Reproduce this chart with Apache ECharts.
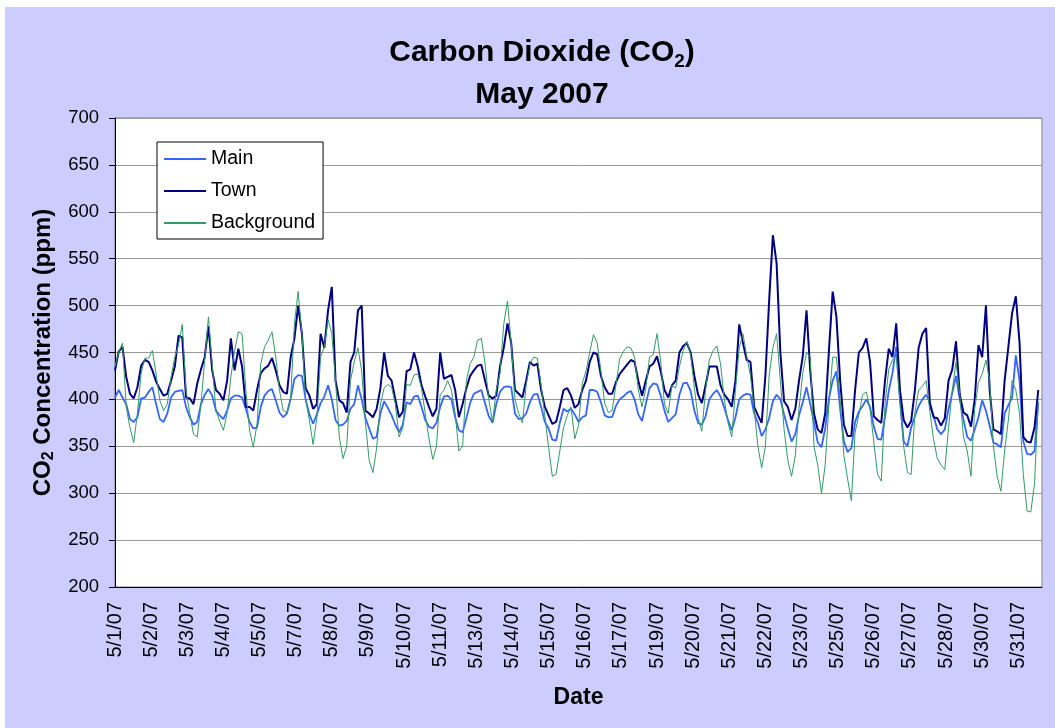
<!DOCTYPE html>
<html>
<head>
<meta charset="utf-8">
<title>Carbon Dioxide (CO2) - May 2007</title>
<script src="https://cdn.jsdelivr.net/npm/echarts@6/dist/echarts.min.js"></script>
<style>
  html, body { margin: 0; padding: 0; background: #fff; }
  #chart { width: 1055px; height: 728px; }
</style>
</head>
<body>
<div id="chart"></div>
<script>
// CO2 readings (ppm), read every 3 hours from 5/1/07 00:00 to 5/31/07 21:00
const stepHours = 3
const seriesNames = ['Main', 'Town', 'Background']

const mainPpm = [
  402, 410, 402, 395, 379, 376, 381, 401,
  402, 408, 413, 395, 379, 376, 385, 402,
  408, 409, 410, 392, 381, 373, 376, 395,
  405, 411, 404, 388, 383, 379, 388, 401,
  404, 404, 402, 390, 376, 369, 370, 392,
  404, 409, 411, 399, 386, 381, 385, 401,
  422, 426, 425, 400, 384, 374, 384, 396,
  403, 415, 400, 378, 372, 373, 377, 390,
  395, 415, 400, 380, 369, 358, 360, 385,
  398, 391, 383, 373, 365, 373, 397, 395,
  403, 404, 392, 378, 371, 369, 375, 392,
  403, 404, 400, 381, 367, 365, 380, 396,
  406, 408, 410, 396, 382, 375, 395, 408,
  413, 414, 413, 385, 379, 380, 385, 397,
  405, 406, 392, 376, 369, 357, 356, 375,
  390, 387, 390, 384, 376, 381, 383, 410,
  410, 408, 397, 383, 381, 381, 393, 400,
  403, 407, 409, 400, 384, 377, 395, 412,
  417, 416, 404, 388, 376, 380, 384, 405,
  417, 418, 409, 388, 375, 373, 382, 400,
  406, 410, 403, 391, 378, 367, 381, 400,
  404, 406, 405, 385, 375, 361, 368, 380,
  398, 405, 400, 384, 369, 355, 363, 383,
  397, 413, 395, 375, 354, 349, 369, 401,
  420, 430, 390, 355, 344, 348, 376, 387,
  393, 400, 392, 371, 358, 357, 381, 409,
  428, 456, 400, 355, 350, 370, 382, 393,
  400, 405, 397, 382, 368, 363, 368, 390,
  407, 425, 400, 378, 360, 356, 368, 381,
  399, 388, 372, 354, 352, 349, 385, 394,
  402, 447, 420, 355, 342, 341, 345, 396
]

const townPpm = [
  431, 451, 456, 424, 406, 401, 413, 436,
  442, 440, 431, 419, 411, 404, 406, 420,
  435, 468, 466, 402, 401, 395, 417, 432,
  445, 478, 431, 410, 406, 399, 420, 465,
  431, 454, 435, 392, 392, 388, 410, 428,
  433, 436, 444, 431, 415, 408, 406, 445,
  465, 500, 470, 412, 404, 390, 395, 470,
  455, 495, 520, 420, 399, 396, 386, 440,
  450, 495, 500, 388, 385, 381, 390, 412,
  450, 425, 420, 400, 381, 387, 430, 432,
  450, 435, 415, 403, 392, 382, 390, 450,
  422, 424, 426, 410, 381, 395, 412, 425,
  431, 436, 437, 420, 404, 401, 404, 435,
  455, 481, 460, 410, 406, 402, 420, 440,
  436, 438, 410, 392, 383, 374, 376, 392,
  410, 412, 404, 391, 395, 410, 420, 440,
  450, 448, 425, 413, 406, 406, 418, 427,
  432, 437, 442, 440, 420, 404, 420, 435,
  438, 446, 430, 410, 402, 415, 420, 450,
  457, 460, 450, 425, 405, 396, 415, 435,
  435, 435, 415, 405, 400, 392, 420, 480,
  460, 442, 440, 392, 383, 375, 425, 505,
  575, 545, 450, 398, 392, 378, 390, 420,
  446, 495, 430, 385, 368, 364, 385, 452,
  515, 488, 420, 373, 361, 361, 410, 450,
  455, 465, 440, 382, 378, 375, 420, 454,
  445, 481, 410, 378, 370, 377, 410, 455,
  470, 476, 395, 381, 380, 372, 380, 420,
  432, 462, 405, 386, 383, 371, 400, 458,
  445, 500, 410, 368, 366, 363, 420, 456,
  492, 510, 460, 360, 355, 354, 370, 410
]

const backgroundPpm = [
  435, 450, 460, 392, 370, 354, 385, 428,
  444, 444, 452, 427, 399, 388, 395, 424,
  445, 458, 480, 410, 385, 363, 360, 395,
  442, 488, 438, 388, 377, 367, 385, 424,
  452, 472, 470, 410, 367, 349, 374, 438,
  456, 463, 472, 445, 410, 388, 386, 402,
  481, 515, 470, 400, 378, 352, 380, 445,
  456, 485, 470, 420, 360, 337, 350, 420,
  440, 455, 430, 375, 335, 322, 348, 395,
  412, 416, 413, 395, 360, 370, 416, 415,
  426, 427, 412, 385, 358, 336, 350, 405,
  410, 420, 410, 385, 345, 350, 420, 438,
  445, 463, 465, 438, 400, 376, 410, 428,
  480, 505, 460, 400, 385, 375, 415, 438,
  445, 444, 415, 382, 349, 318, 320, 345,
  370, 383, 392, 358, 372, 417, 430, 450,
  469, 460, 430, 396, 386, 388, 415, 443,
  451, 456, 455, 445, 410, 392, 412, 445,
  448, 470, 440, 395, 385, 415, 412, 435,
  452, 462, 448, 412, 380, 366, 410, 442,
  452, 457, 438, 400, 375, 360, 410, 455,
  470, 446, 425, 390, 350, 327, 350, 425,
  455, 470, 420, 368, 335, 318, 340, 390,
  428, 450, 445, 350, 330, 300, 330, 395,
  445, 445, 400, 340, 315, 292, 365, 383,
  405, 408, 390, 355, 320, 313, 395, 432,
  442, 447, 396, 350, 322, 320, 386, 410,
  414, 420, 387, 357, 337, 330, 325, 370,
  410, 440, 405, 360, 345, 318, 390, 418,
  427, 442, 420, 350, 318, 302, 345, 378,
  420, 410, 385, 320, 281, 280, 310, 398
]

// y axis 200..700 by 50, x axis labelled every 29 hours (as in the Excel sheet)
const yMin = 200
const yMax = 700
const yStep = 50
const totalHours = 744
const labelEveryHours = 29

const hours = mainPpm.map((_, i) => i * stepHours)

function pairs (vals) {
  return vals.map((v, i) => [hours[i], v])
}

function dayLabel (h) {
  return '5/' + (Math.floor(h / 24) + 1) + '/07'
}

const font = "'Liberation Sans', Arial, sans-serif"

const chart = echarts.init(document.getElementById('chart'), null, { renderer: 'canvas' })

chart.setOption({
  backgroundColor: '#ffffff',
  animation: false,
  graphic: [{
    type: 'rect',
    left: 5,
    top: 7,
    z: -10,
    silent: true,
    shape: { width: 1050, height: 721 },
    style: { fill: '#ccccff' }
  }],
  title: [
    {
      text: '{t|Carbon Dioxide (CO}{s|2}{t|)}',
      left: 537,
      top: 30,
      textAlign: 'center',
      textStyle: {
        rich: {
          t: { fontSize: 30, fontWeight: 'bold', color: '#000', fontFamily: font, lineHeight: 36 },
          s: { fontSize: 19, fontWeight: 'bold', color: '#000', fontFamily: font, lineHeight: 19, verticalAlign: 'bottom' }
        }
      }
    },
    {
      text: 'May 2007',
      left: 537,
      top: 72,
      textAlign: 'center',
      textStyle: { fontSize: 30, fontWeight: 'bold', color: '#000', fontFamily: font, lineHeight: 36 }
    }
  ],
  legend: {
    orient: 'vertical',
    left: 157,
    top: 142,
    data: seriesNames,
    icon: 'rect',
    itemWidth: 42,
    itemHeight: 2,
    itemGap: 12,
    padding: [7, 8, 6, 7],
    backgroundColor: '#ffffff',
    borderColor: '#000000',
    borderWidth: 1,
    borderRadius: 0,
    textStyle: { fontSize: 19.5, color: '#000', fontFamily: font, lineHeight: 20 }
  },
  grid: {
    left: 115,
    right: 13,
    top: 118,
    bottom: 141,
    show: true,
    backgroundColor: '#ffffff',
    borderColor: '#808080',
    borderWidth: 1
  },
  xAxis: {
    type: 'value',
    min: 0,
    max: totalHours,
    interval: labelEveryHours,
    name: 'Date',
    nameLocation: 'middle',
    nameGap: 99,
    nameTextStyle: { fontSize: 23, fontWeight: 'bold', color: '#000', fontFamily: font },
    axisLine: { show: true, lineStyle: { color: '#000', width: 1 } },
    axisTick: { show: false },
    splitLine: { show: false },
    axisLabel: {
      rotate: 90,
      margin: 15,
      fontSize: 20,
      color: '#000',
      fontFamily: font,
      showMaxLabel: false,
      formatter: v => (v < totalHours ? dayLabel(v) : '')
    }
  },
  yAxis: {
    type: 'value',
    min: yMin,
    max: yMax,
    interval: yStep,
    name: '{t|CO}{s|2}{t| Concentration (ppm)}',
    nameLocation: 'middle',
    nameRotate: 90,
    nameGap: 58,
    nameTextStyle: {
      rich: {
        t: { fontSize: 24, fontWeight: 'bold', color: '#000', fontFamily: font, lineHeight: 28 },
        s: { fontSize: 16, fontWeight: 'bold', color: '#000', fontFamily: font, lineHeight: 16, verticalAlign: 'bottom' }
      }
    },
    axisLine: { show: true, lineStyle: { color: '#000', width: 1 } },
    axisTick: { show: true, length: 6, lineStyle: { color: '#000' } },
    axisLabel: { fontSize: 18.5, margin: 16, color: '#000', fontFamily: font },
    splitLine: { lineStyle: { color: '#999999', width: 1 } }
  },
  series: [
    {
      name: 'Main',
      type: 'line',
      data: pairs(mainPpm),
      showSymbol: false,
      symbol: 'none',
      lineStyle: { color: '#3366ff', width: 1.8 },
      itemStyle: { color: '#3366ff' }
    },
    {
      name: 'Town',
      type: 'line',
      data: pairs(townPpm),
      showSymbol: false,
      symbol: 'none',
      lineStyle: { color: '#000080', width: 2 },
      itemStyle: { color: '#000080' }
    },
    {
      name: 'Background',
      type: 'line',
      data: pairs(backgroundPpm),
      showSymbol: false,
      symbol: 'none',
      lineStyle: { color: '#339966', width: 1 },
      itemStyle: { color: '#339966' }
    }
  ]
})
</script>
</body>
</html>
